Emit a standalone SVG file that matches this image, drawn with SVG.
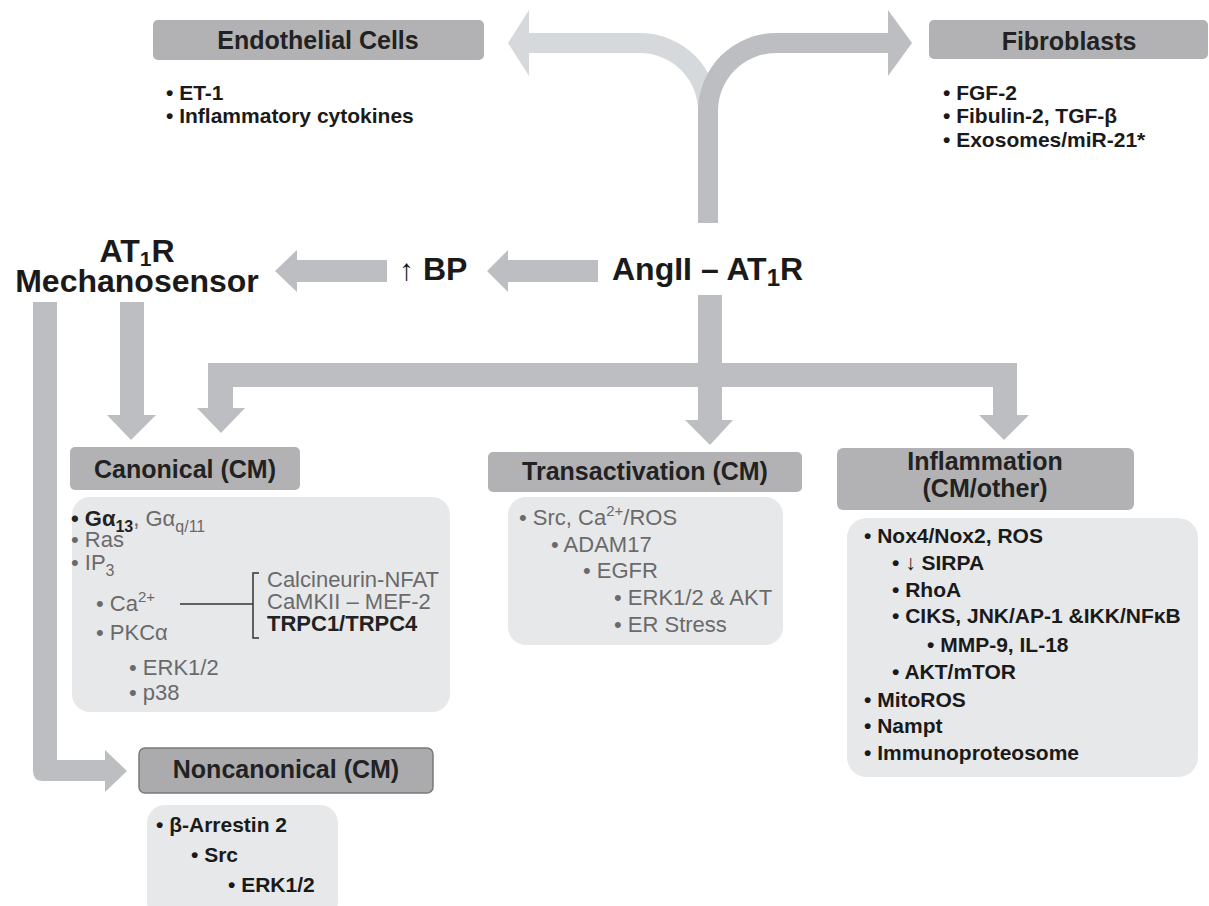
<svg xmlns="http://www.w3.org/2000/svg" width="1209" height="906" viewBox="0 0 1209 906">
<style>
text{font-family:"Liberation Sans",Arial,Helvetica,sans-serif}
.hd{fill:#b2b2b4}
.bd{fill:#e7e8ea}
.ht{font-size:25px;font-weight:bold;fill:#222;text-anchor:middle}
.big{font-size:32px;font-weight:bold;fill:#1a1a1a}
.bl{font-size:21px;font-weight:bold;fill:#1a1a1a}
.cg{font-size:22px;fill:#6a6a6a}
.b{font-weight:bold}
.dk{fill:#222}
.arr{fill:#bdbec1}
.arrl{fill:#d6d9dc}
</style>
<rect width="1209" height="906" fill="#fff"/>

<g id="connectors">
<path class="arrl" d="M508,43 L529,10 L529,33 L640,33 A78,78 0 0 1 718,111 L698,111 A58,58 0 0 0 640,53 L529,53 L529,76 Z"/>
<path class="arr" d="M912,43 L888,10 L888,33 L776,33 A78,78 0 0 0 698,111 L698,223 L718,223 L718,111 A58,58 0 0 1 776,53 L888,53 L888,76 Z"/>
<path class="arr" d="M487,271 L508,250 L508,260 L598,260 L598,282 L508,282 L508,292 Z"/>
<path class="arr" d="M275,271 L297,250 L297,260 L387,260 L387,282 L297,282 L297,292 Z"/>
<path class="arr" d="M120,302 L144,302 L144,415 L156,415 L131,440 L107,415 L120,415 Z"/>
<path class="arr" d="M698,295 L722,295 L722,420 L733,420 L710,445 L685,420 L698,420 Z"/>
<path class="arr" d="M208,363 L1017,363 L1017,415 L1029,415 L1004,440 L979,415 L993,415 L993,387 L233,387 L233,408 L245,408 L221,433 L197,408 L208,408 Z"/>
<path class="arr" d="M33,302 L57,302 L57,760 L105,760 L105,750 L127,771 L105,792 L105,781 L43,781 Q33,781 33,771 Z"/>
</g>

<g id="endothelial">
<rect class="hd" x="153" y="20" width="331" height="40" rx="5"/>
<text class="ht" x="318" y="49">Endothelial Cells</text>
<text class="bl" x="166" y="100">• ET-1</text>
<text class="bl" x="166" y="123">• Inflammatory cytokines</text>
</g>

<g id="fibroblasts">
<rect class="hd" x="929" y="20" width="279" height="39" rx="5"/>
<text class="ht" x="1069" y="50">Fibroblasts</text>
<text class="bl" x="943" y="100">• FGF-2</text>
<text class="bl" x="943" y="123">• Fibulin-2, TGF-β</text>
<text class="bl" x="943" y="147">• Exosomes/miR-21*</text>
</g>

<g id="angii">
<text class="big" x="612" y="280" font-size="33">AngII – AT<tspan font-size="24" dy="6">1</tspan><tspan dy="-6">R</tspan></text>
</g>

<g id="bp">
<text class="big" x="423" y="280"><tspan x="399" font-weight="normal" font-size="30">↑</tspan><tspan x="423">BP</tspan></text>
</g>

<g id="mechanosensor">
<text class="big" text-anchor="middle"><tspan x="137" y="262">AT</tspan><tspan font-size="21" dy="4">1</tspan><tspan dy="-4">R</tspan><tspan x="137" y="292">Mechanosensor</tspan></text>
</g>

<g id="canonical">
<rect class="hd" x="70" y="447" width="230" height="43" rx="5"/>
<text class="ht" x="185" y="478">Canonical (CM)</text>
<rect class="bd" x="72" y="497" width="378" height="215" rx="18"/>
<text class="cg" x="71" y="526"><tspan class="b dk">• Gα</tspan><tspan class="b dk" font-size="16" dy="6">13</tspan><tspan dy="-6">, Gα</tspan><tspan font-size="16" dy="6">q/11</tspan></text>
<text class="cg" x="71" y="547">• Ras</text>
<text class="cg" x="71" y="570">• IP<tspan font-size="16" dy="6">3</tspan></text>
<text class="cg" x="96" y="611">• Ca<tspan font-size="15" dy="-9">2+</tspan></text>
<text class="cg" x="96" y="640">• PKCα</text>
<text class="cg" x="129" y="675">• ERK1/2</text>
<text class="cg" x="129" y="700">• p38</text>
<path d="M180,604 L253,604 M259,573 L253,573 L253,638 L259,638" fill="none" stroke="#333" stroke-width="1.5"/>
<text class="cg" x="267" y="587">Calcineurin-NFAT</text>
<text class="cg" x="267" y="609">CaMKII – MEF-2</text>
<text class="cg b dk" x="267" y="631">TRPC1/TRPC4</text>
</g>

<g id="transactivation">
<rect class="hd" x="488" y="452" width="314" height="40" rx="5"/>
<text class="ht" x="645" y="480">Transactivation (CM)</text>
<rect class="bd" x="508" y="497" width="275" height="148" rx="18"/>
<text class="cg" x="519" y="525">• Src, Ca<tspan font-size="15" dy="-9">2+</tspan><tspan dy="9">/ROS</tspan></text>
<text class="cg" x="551" y="552">• ADAM17</text>
<text class="cg" x="583" y="578">• EGFR</text>
<text class="cg" x="614" y="605">• ERK1/2 &amp; AKT</text>
<text class="cg" x="614" y="632">• ER Stress</text>
</g>

<g id="inflammation">
<rect class="hd" x="837" y="448" width="297" height="62" rx="6"/>
<text class="ht" x="985" y="470">Inflammation</text>
<text class="ht" x="985" y="497">(CM/other)</text>
<rect class="bd" x="847" y="518" width="351" height="259" rx="20"/>
<text class="bl" x="864" y="543">• Nox4/Nox2, ROS</text>
<text class="bl" x="892" y="570">• ↓ SIRPA</text>
<text class="bl" x="892" y="597">• RhoA</text>
<text class="bl" x="892" y="623" font-size="21.5">• CIKS, JNK/AP-1 &amp;IKK/NFκB</text>
<text class="bl" x="927" y="652">• MMP-9, IL-18</text>
<text class="bl" x="892" y="679">• AKT/mTOR</text>
<text class="bl" x="864" y="707">• MitoROS</text>
<text class="bl" x="864" y="733">• Nampt</text>
<text class="bl" x="864" y="760">• Immunoproteosome</text>
</g>

<g id="noncanonical">
<rect x="139" y="748" width="294" height="45" rx="6" fill="#ababad" stroke="#7a7a7a" stroke-width="1.5"/>
<text class="ht" x="286" y="778">Noncanonical (CM)</text>
<rect class="bd" x="147" y="805" width="191" height="115" rx="18"/>
<text class="bl" x="156" y="832">• β-Arrestin 2</text>
<text class="bl" x="191" y="862">• Src</text>
<text class="bl" x="228" y="892">• ERK1/2</text>
</g>
</svg>
